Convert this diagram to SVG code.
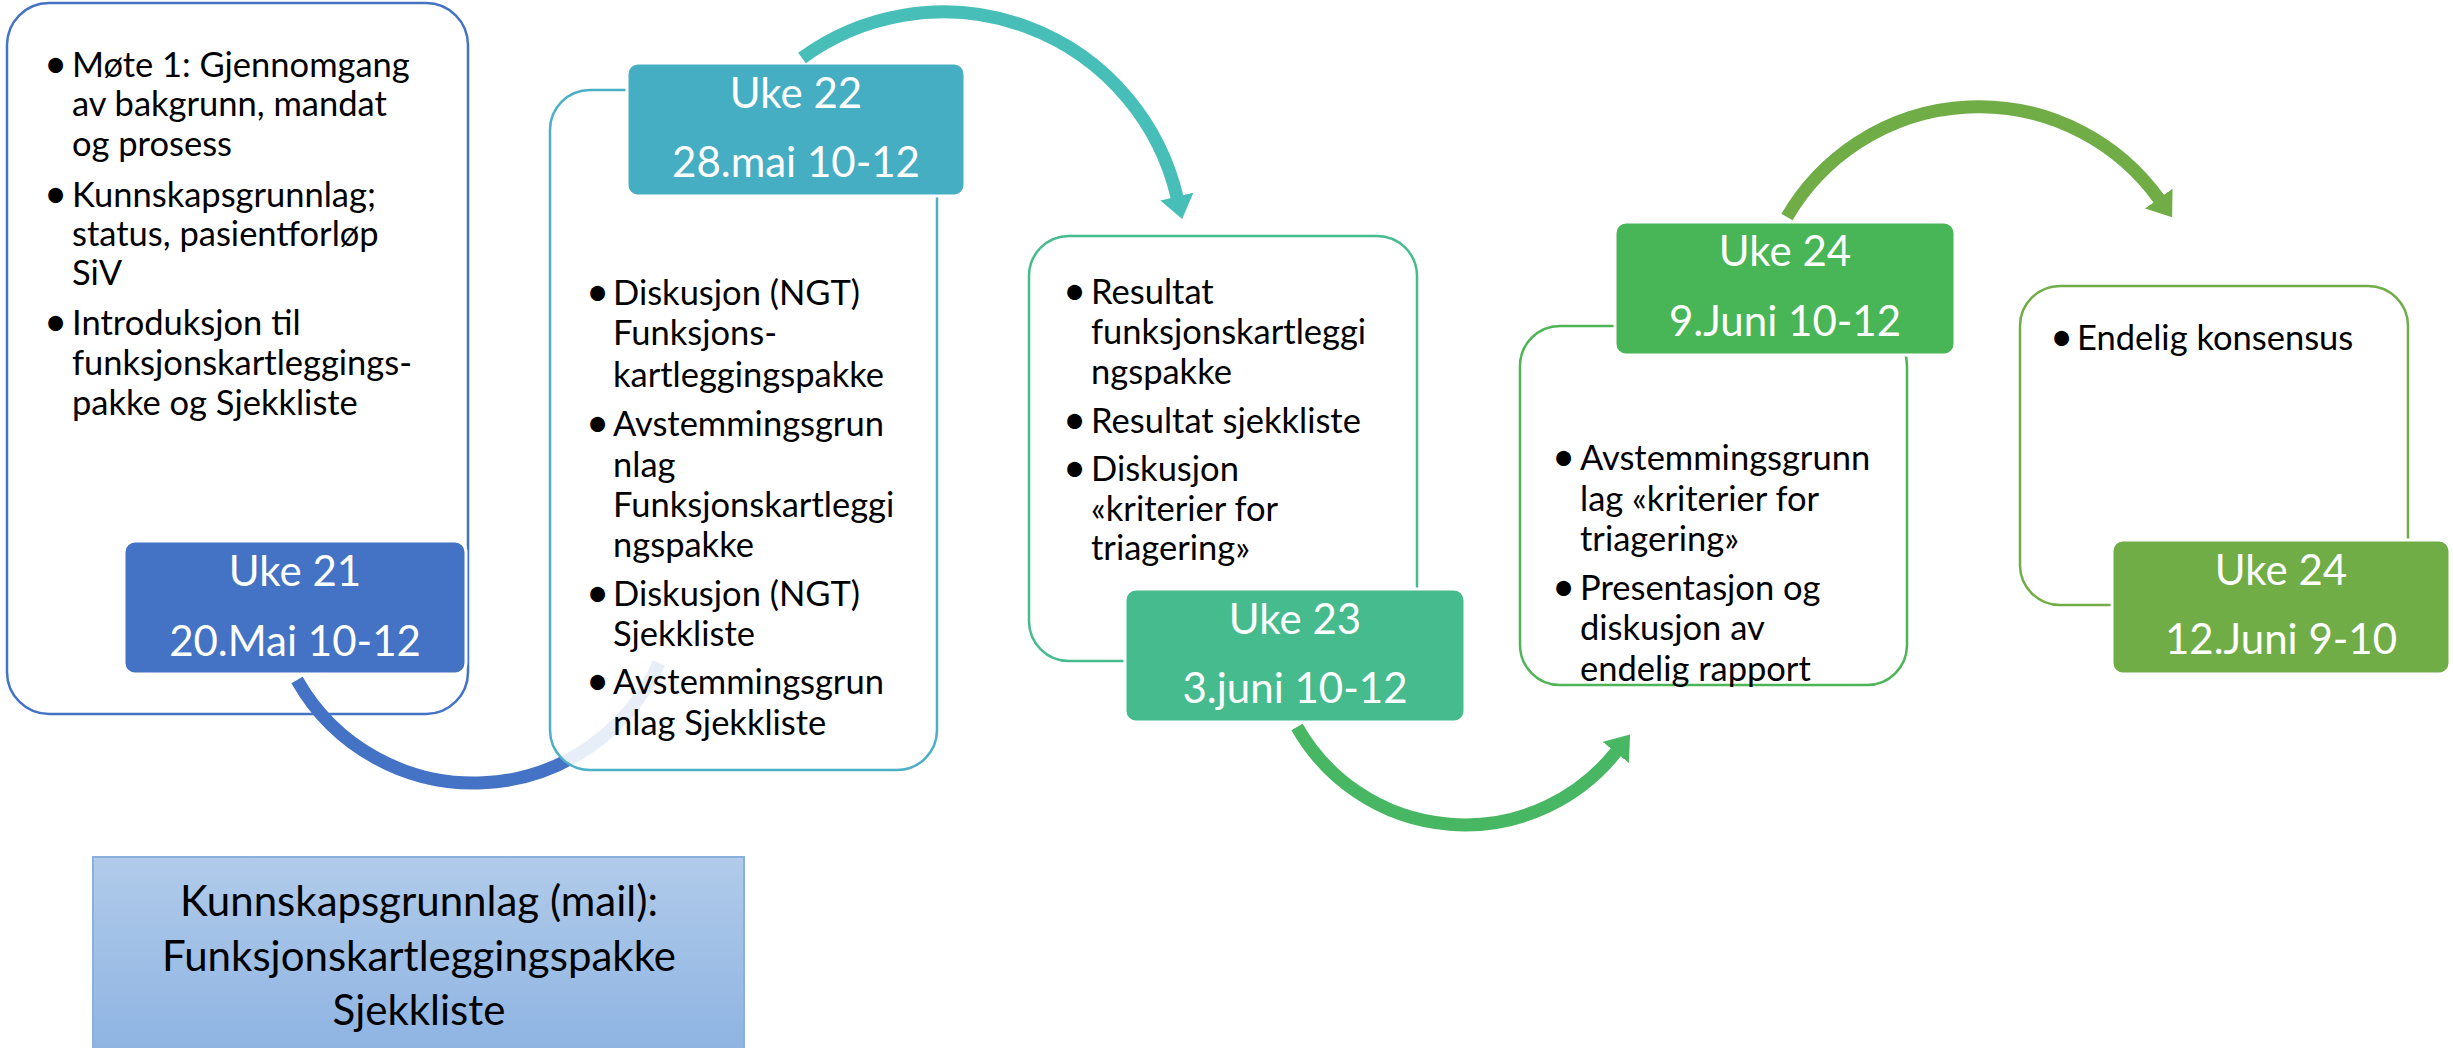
<svg xmlns="http://www.w3.org/2000/svg" width="2453" height="1048" viewBox="0 0 2453 1048">
<style>
.body{font-family:Lato,"Open Sans","Liberation Sans",sans-serif;font-size:34.5px;fill:#000}
.bul{font-family:Lato,"Open Sans","Liberation Sans",sans-serif;font-size:40px;fill:#000}
.lbl{font-family:Lato,"Open Sans","Liberation Sans",sans-serif;font-size:42px;fill:#fff;text-anchor:middle}
.big{font-family:Lato,"Open Sans","Liberation Sans",sans-serif;font-size:42px;fill:#000;text-anchor:middle}
.box{fill:#fff;stroke-width:2.5}
.tag{stroke:#fff;stroke-width:3}
.arc{fill:none;stroke-width:13}
</style>
<defs>
<linearGradient id="gBottom" x1="0" y1="0" x2="0" y2="1">
<stop offset="0" stop-color="#B1CBEA"/>
<stop offset="1" stop-color="#8DB3E2"/>
</linearGradient>
<marker id="mTeal" markerUnits="userSpaceOnUse" viewBox="0 0 24 34" markerWidth="24" markerHeight="34" refX="0.5" refY="17" orient="auto"><path d="M0,0 L23,17 L0,34 Z" fill="#47BFB8"/></marker>
<marker id="mGreen" markerUnits="userSpaceOnUse" viewBox="0 0 24 34" markerWidth="24" markerHeight="34" refX="0.5" refY="17" orient="auto"><path d="M0,0 L23,17 L0,34 Z" fill="#48B763"/></marker>
<marker id="mLime" markerUnits="userSpaceOnUse" viewBox="0 0 24 34" markerWidth="24" markerHeight="34" refX="0.5" refY="17" orient="auto"><path d="M0,0 L23,17 L0,34 Z" fill="#70AD47"/></marker>
</defs>
<rect width="2453" height="1048" fill="#fff"/>

<g id="node-uke21">
<rect class="box" x="7" y="3" width="461" height="711" rx="42" stroke="#4472C4"/>
<g class="bul">
<text x="44" y="78">•</text><text x="44" y="208">•</text><text x="44" y="336">•</text>
</g>
<g class="body">
<text x="72" y="77">Møte 1: Gjennomgang</text>
<text x="72" y="116">av bakgrunn, mandat</text>
<text x="72" y="156">og prosess</text>
<text x="72" y="207">Kunnskapsgrunnlag;</text>
<text x="72" y="246">status, pasientforløp</text>
<text x="72" y="285">SiV</text>
<text x="72" y="335">Introduksjon til</text>
<text x="72" y="375">funksjonskartleggings-</text>
<text x="72" y="415">pakke og Sjekkliste</text>
</g>
<rect class="tag" x="124" y="541" width="342" height="133" rx="11" fill="#4472C4"/>
<text class="lbl" x="295" y="586">Uke 21</text>
<text class="lbl" x="295" y="656">20.Mai 10-12</text>
</g>

<g id="connectors-1">
<path class="arc" d="M 297 680 A 203 203 0 0 0 659 663" stroke="#4472C4" stroke-width="14"/>
</g>

<g id="node-uke22">
<rect class="box" x="550" y="90" width="387" height="680" rx="40" stroke="#4BAFC5" fill-opacity="0.88"/>
<g class="bul">
<text x="586" y="306">•</text><text x="586" y="437">•</text><text x="586" y="607">•</text><text x="586" y="695">•</text>
</g>
<g class="body">
<text x="613" y="305">Diskusjon (NGT)</text>
<text x="613" y="345">Funksjons-</text>
<text x="613" y="387">kartleggingspakke</text>
<text x="613" y="436">Avstemmingsgrun</text>
<text x="613" y="477">nlag</text>
<text x="613" y="517">Funksjonskartleggi</text>
<text x="613" y="557">ngspakke</text>
<text x="613" y="606">Diskusjon (NGT)</text>
<text x="613" y="646">Sjekkliste</text>
<text x="613" y="694">Avstemmingsgrun</text>
<text x="613" y="735">nlag Sjekkliste</text>
</g>
<rect class="tag" x="627" y="63" width="338" height="133" rx="11" fill="#46AEC3"/>
<text class="lbl" x="796" y="108">Uke 22</text>
<text class="lbl" x="796" y="177">28.mai 10-12</text>
</g>

<g id="node-uke23">
<rect class="box" x="1029" y="236" width="388" height="425" rx="40" stroke="#45BB8E"/>
<g class="bul">
<text x="1063" y="305">•</text><text x="1063" y="434">•</text><text x="1063" y="482">•</text>
</g>
<g class="body">
<text x="1091" y="304">Resultat</text>
<text x="1091" y="344">funksjonskartleggi</text>
<text x="1091" y="384">ngspakke</text>
<text x="1091" y="433">Resultat sjekkliste</text>
<text x="1091" y="481">Diskusjon</text>
<text x="1091" y="521">«kriterier for</text>
<text x="1091" y="560">triagering»</text>
</g>
<rect class="tag" x="1125" y="589" width="340" height="133" rx="11" fill="#45BB8E"/>
<text class="lbl" x="1295" y="634">Uke 23</text>
<text class="lbl" x="1295" y="703">3.juni 10-12</text>
</g>

<g id="node-uke24a">
<rect class="box" x="1520" y="326" width="387" height="359" rx="40" stroke="#4EB556"/>
<g class="bul">
<text x="1552" y="471">•</text><text x="1552" y="601">•</text>
</g>
<g class="body">
<text x="1580" y="470">Avstemmingsgrunn</text>
<text x="1580" y="511">lag «kriterier for</text>
<text x="1580" y="551">triagering»</text>
<text x="1580" y="600">Presentasjon og</text>
<text x="1580" y="640">diskusjon av</text>
<text x="1580" y="681">endelig rapport</text>
</g>
<rect class="tag" x="1615" y="222" width="340" height="133" rx="11" fill="#48B556"/>
<text class="lbl" x="1785" y="266">Uke 24</text>
<text class="lbl" x="1785" y="336">9.Juni 10-12</text>
</g>

<g id="node-uke24b">
<rect class="box" x="2020" y="286" width="388" height="319" rx="40" stroke="#70AD47"/>
<text class="bul" x="2050" y="351">•</text>
<text class="body" x="2077" y="350">Endelig konsensus</text>
<rect class="tag" x="2112" y="540" width="338" height="134" rx="11" fill="#70AD47"/>
<text class="lbl" x="2281" y="585">Uke 24</text>
<text class="lbl" x="2281" y="654">12.Juni 9-10</text>
</g>

<g id="connectors">
<path class="arc" d="M 802 58 A 240 240 0 0 1 1177 197" stroke="#47BFB8" marker-end="url(#mTeal)"/>
<path class="arc" d="M 1297 727 A 193 193 0 0 0 1616 752" stroke="#48B763" stroke-width="14" marker-end="url(#mGreen)"/>
<path class="arc" d="M 1787 217 A 222 222 0 0 1 2159 199" stroke="#70AD47" marker-end="url(#mLime)"/>
</g>

<g id="node-kunnskapsgrunnlag">
<rect x="93" y="857" width="651" height="200" fill="url(#gBottom)" stroke="#8AB0E0" stroke-width="2"/>
<text class="big" x="419" y="916">Kunnskapsgrunnlag (mail):</text>
<text class="big" x="419" y="971">Funksjonskartleggingspakke</text>
<text class="big" x="419" y="1025">Sjekkliste</text>
</g>
</svg>
